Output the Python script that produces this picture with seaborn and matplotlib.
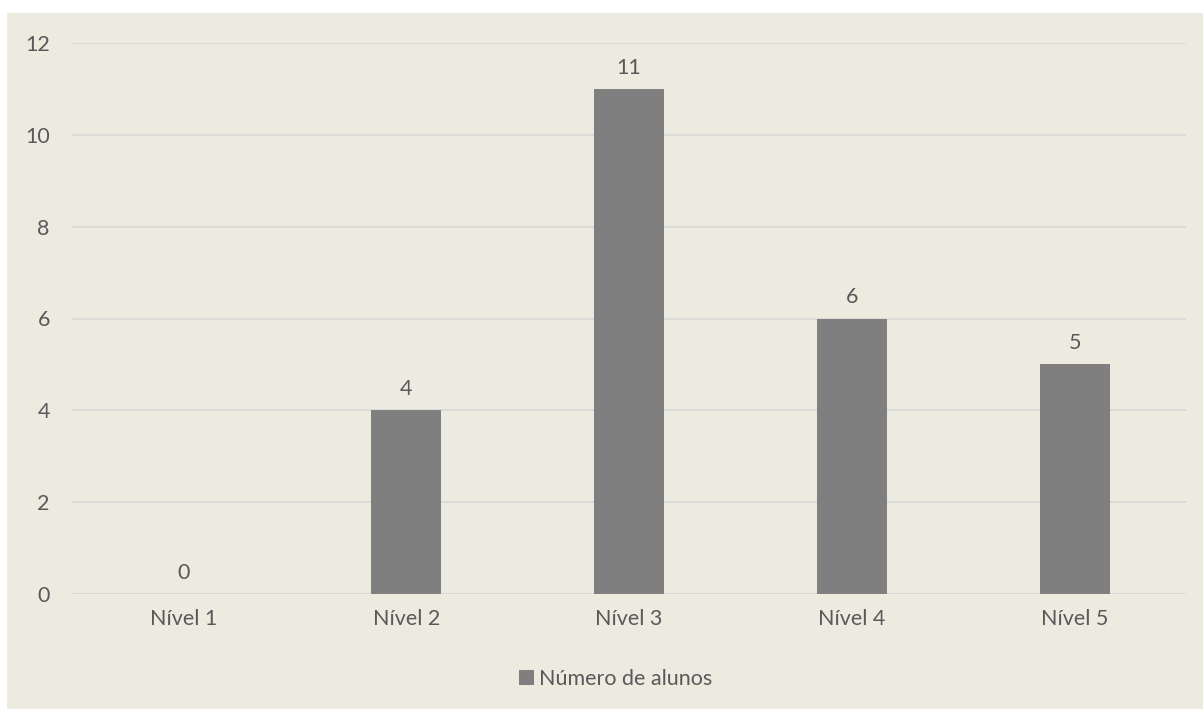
import matplotlib
matplotlib.use("Agg")
import matplotlib.pyplot as plt
import seaborn as sns
import pandas as pd
from matplotlib.patches import Rectangle

categories = ["Nível 1", "Nível 2", "Nível 3", "Nível 4", "Nível 5"]
values = [0, 4, 11, 6, 5]
series_name = "Número de alunos"
y_ticks = [0, 2, 4, 6, 8, 10, 12]

bg = "#EDEAE0"
bar_color = "#7F7F7F"
text_color = "#595959"
grid_color = "#D9D9D9"
fs = 15.5

sns.set_theme(style="white")
plt.rcParams["font.family"] = ["Lato", "DejaVu Sans"]

W, H = 1203, 709
fig = plt.figure(figsize=(W / 100, H / 100), dpi=100, facecolor="white")
# beige chart area with a thin white margin on the left and top
fig.patches.append(Rectangle((7 / W, 0), 1 - 7 / W, 1 - 13 / H,
                             transform=fig.transFigure, facecolor=bg,
                             edgecolor="none", zorder=-10))

left, right = 72 / W, 1186 / W
top, bottom = 1 - 43 / H, 1 - 594 / H
ax = fig.add_axes([left, bottom, right - left, top - bottom], zorder=5)
ax.set_facecolor("none")

df = pd.DataFrame({"Nível": categories, series_name: values})
sns.barplot(data=df, x="Nível", y=series_name, color=bar_color,
            width=0.315, saturation=1, linewidth=0, ax=ax,
            label=series_name, zorder=3)

ax.set_ylim(0, 12)
ax.set_xlim(-0.5, len(categories) - 0.5)
ax.set_yticks(y_ticks)
ax.yaxis.grid(True, color=grid_color, linewidth=1.3, zorder=0)
ax.set_axisbelow(True)
for s in ax.spines.values():
    s.set_visible(False)
ax.tick_params(axis="both", length=0, labelsize=fs, colors=text_color)
ax.tick_params(axis="x", pad=11)
ax.tick_params(axis="y", pad=16)
ax.set_xlabel("")
ax.set_ylabel("")

for c in ax.containers:
    ax.bar_label(c, labels=[str(v) for v in values], padding=8,
                 fontsize=fs, color=text_color)

leg = ax.legend(loc="center", bbox_to_anchor=(0.488, (594 - 679) / (594 - 43)),
                frameon=False, fontsize=fs, handlelength=0.7,
                handleheight=0.7, handletextpad=0.25, labelcolor=text_color)

fig.savefig("out.png", dpi=100, facecolor="white")
